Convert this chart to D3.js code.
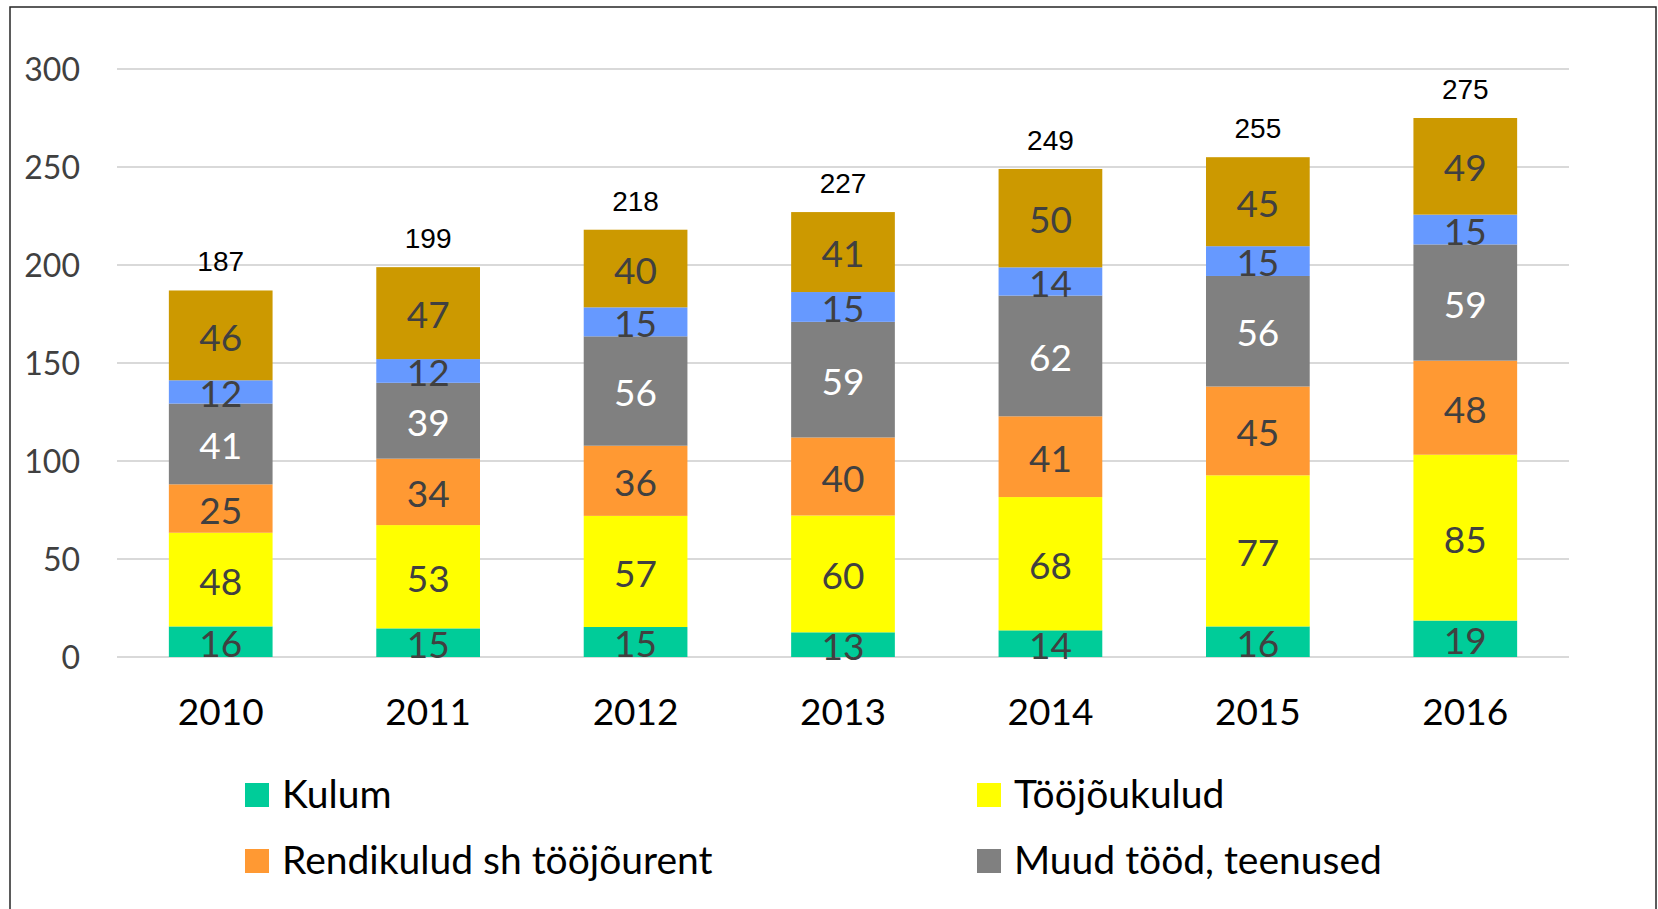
<!DOCTYPE html>
<html><head><meta charset="utf-8">
<script src="https://cdn.jsdelivr.net/npm/d3@7"></script>
<style>html,body{margin:0;padding:0;background:#fff;}svg{display:block;}</style>
</head><body>
<svg id="chart" width="1658" height="909"></svg>
<script>
const years = ["2010","2011","2012","2013","2014","2015","2016"];
const seriesNames = ["Kulum","Tööjõukulud","Rendikulud sh tööjõurent","Muud tööd, teenused","Seeria 5","Seeria 6"];
// values (labels show them rounded)
const kulum       = [15.6,14.6,15.3,12.6,13.6,15.6,18.6];
const toojoukulud = [47.8,52.7,56.7,59.6,68.0,77.1,84.6];
const rendikulud  = [24.7,33.9,35.8,39.8,41.2,45.3,48.0];
const muud        = [41.2,38.7,55.8,59.0,61.6,56.4,59.3];
const seeria5     = [11.9,12.1,14.8,15.2,14.4,15.2,15.2];
const seeria6     = [45.8,46.9,39.6,40.8,50.2,45.4,49.3];
const totals = [187,199,218,227,249,255,275];
const yTicks = [0,50,100,150,200,250,300];
const legendNames = ["Kulum","Tööjõukulud","Rendikulud sh tööjõurent","Muud tööd, teenused"];

const colors = ["#00CC99","#FFFF00","#FF9933","#808080","#6699FF","#CC9900"];
const labelColors = ["#404040","#404040","#404040","#ffffff","#404040","#404040"];
const seriesData = [kulum,toojoukulud,rendikulud,muud,seeria5,seeria6];
const fmt = d3.format(".0f");

const svg = d3.select("#chart");
svg.append("rect").attr("x",10).attr("y",7).attr("width",1646).attr("height",920)
  .attr("fill","#fff").attr("stroke","#262626").attr("stroke-width",1.5);

const x = d3.scaleBand().domain(years).range([117,1569]).paddingInner(0.5).paddingOuter(0.25);
const y = d3.scaleLinear().domain([0,300]).range([657,69]);

// gridlines
svg.append("g").selectAll("line").data(yTicks).join("line")
  .attr("x1",117).attr("x2",1569).attr("y1",d=>y(d)).attr("y2",d=>y(d))
  .attr("stroke","#d9d9d9").attr("stroke-width",2);

// y axis
const yAxis = svg.append("g").attr("transform","translate(117,0)")
  .call(d3.axisLeft(y).tickValues(yTicks).tickSize(0).tickPadding(37));
yAxis.select(".domain").remove();
yAxis.selectAll("text").attr("font-family","Lato, 'Open Sans', sans-serif").attr("font-size",32)
  .attr("fill","#404040").attr("dy","0.36em");

// x axis
const xAxis = svg.append("g").attr("transform","translate(0,657)")
  .call(d3.axisBottom(x).tickSize(0).tickPadding(42));
xAxis.select(".domain").remove();
xAxis.selectAll("text").attr("font-family","Lato, 'Open Sans', sans-serif").attr("font-size",37)
  .attr("fill","#000");

// stack
const rows = years.map((yr,i)=>{const o={year:yr}; seriesData.forEach((s,k)=>o["s"+k]=s[i]); return o;});
const keys = seriesData.map((s,k)=>"s"+k);
const stacked = d3.stack().keys(keys)(rows);

const layers = svg.append("g").selectAll("g").data(stacked).join("g")
  .attr("fill",(d,i)=>colors[i]);
layers.selectAll("rect").data(d=>d).join("rect")
  .attr("x",d=>x(d.data.year)).attr("width",x.bandwidth())
  .attr("y",d=>y(d[1])).attr("height",d=>y(d[0])-y(d[1]));

// segment labels
stacked.forEach((layer,k)=>{
  svg.append("g").selectAll("text").data(layer).join("text")
    .attr("x",d=>x(d.data.year)+x.bandwidth()/2)
    .attr("y",d=>(y(d[0])+y(d[1]))/2)
    .attr("dy","0.41em").attr("text-anchor","middle")
    .attr("font-family","Lato, 'Open Sans', sans-serif").attr("font-size",37)
    .attr("fill",labelColors[k])
    .text(d=>fmt(d[1]-d[0]));
});

// totals
svg.append("g").selectAll("text").data(years).join("text")
  .attr("x",d=>x(d)+x.bandwidth()/2)
  .attr("y",(d,i)=>y(totals[i])-19)
  .attr("text-anchor","middle").attr("font-family","'Liberation Sans', Arial, sans-serif")
  .attr("font-size",28).attr("fill","#000")
  .text((d,i)=>totals[i]);

// legend
const legPos = [[245,783],[977,783],[245,849],[977,849]];
const leg = svg.append("g").selectAll("g").data(legendNames).join("g")
  .attr("transform",(d,i)=>`translate(${legPos[i][0]},${legPos[i][1]})`);
leg.append("rect").attr("width",24).attr("height",24).attr("fill",(d,i)=>colors[i]);
leg.append("text").attr("x",37).attr("y",25).attr("font-family","Lato, 'Open Sans', sans-serif")
  .attr("font-size",39).attr("fill","#000").text(d=>d);
</script>
</body></html>
